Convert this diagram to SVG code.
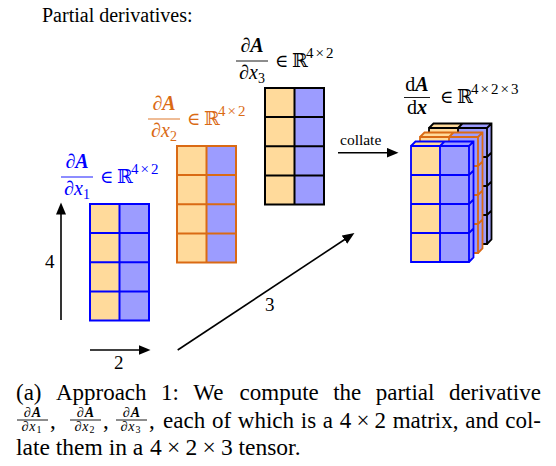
<svg xmlns="http://www.w3.org/2000/svg" width="556" height="466" viewBox="0 0 556 466">
<defs>
<style>
.t{font-family:"Liberation Serif","DejaVu Serif",serif;fill:#000}
.m{font-family:"Liberation Serif","DejaVu Serif",serif}
.i{font-style:italic}
.b{font-style:italic;font-weight:bold}
.of{fill:#FFDA9B}
.bf{fill:#9C9CFF}
.grid{fill:none;stroke-width:2;stroke-linejoin:miter}
.cg{fill:none;stroke-width:1.8;stroke-linejoin:miter}
.ar{fill:none;stroke:#000;stroke-width:1.6}
.bar{stroke-width:0.9}
.cb{stroke:#0000FF}
.co{stroke:#DA6A14}
.ck{stroke:#000}
</style>
<marker id="ah" markerUnits="userSpaceOnUse" markerWidth="13" markerHeight="10" refX="8.5" refY="5" orient="auto">
<path d="M0,0 L12,5 L0,10 Z" fill="#000"/>
</marker>
</defs>
<rect width="556" height="466" fill="#fff"/>

<text class="t" x="42" y="22" font-size="20">Partial derivatives:</text>

<!-- matrix dA/dx1 (blue) -->
<g id="m1">
<rect class="of" x="90" y="204" width="29.5" height="116.5"/>
<rect class="bf" x="119.5" y="204" width="29.5" height="116.5"/>
<path class="grid cb" d="M90,204 h59 v116.5 h-59 z M119.5,204 v116.5 M90,233.1 h59 M90,262.25 h59 M90,291.4 h59"/>
<g class="m" fill="#0000FF">
<line class="bar cb" x1="61" y1="177" x2="93" y2="177"/>
<text x="77" y="168" font-size="20" text-anchor="middle"><tspan class="i">∂</tspan><tspan class="b">A</tspan></text>
<text x="77" y="194.5" font-size="20" text-anchor="middle"><tspan class="i">∂x</tspan><tspan font-size="14" dy="4">1</tspan></text>
<text x="100" y="183" font-size="18">∈</text>
<text x="117" y="183" font-size="19">ℝ</text>
<text x="131" y="174" font-size="15" letter-spacing="2">4×2</text>
</g>
</g>

<!-- matrix dA/dx2 (orange) -->
<g id="m2">
<rect class="of" x="177" y="146" width="29.5" height="116.5"/>
<rect class="bf" x="206.5" y="146" width="29.5" height="116.5"/>
<path class="grid co" d="M177,146 h59 v116.5 h-59 z M206.5,146 v116.5 M177,175.1 h59 M177,204.25 h59 M177,233.4 h59"/>
<g class="m" fill="#DA6A14">
<line class="bar co" x1="148" y1="119" x2="180" y2="119"/>
<text x="164" y="110" font-size="20" text-anchor="middle"><tspan class="i">∂</tspan><tspan class="b">A</tspan></text>
<text x="164" y="136.5" font-size="20" text-anchor="middle"><tspan class="i">∂x</tspan><tspan font-size="14" dy="4">2</tspan></text>
<text x="187" y="125" font-size="18">∈</text>
<text x="204" y="125" font-size="19">ℝ</text>
<text x="218" y="116" font-size="15" letter-spacing="2">4×2</text>
</g>
</g>

<!-- matrix dA/dx3 (black) -->
<g id="m3">
<rect class="of" x="265" y="88" width="29.5" height="116.5"/>
<rect class="bf" x="294.5" y="88" width="29.5" height="116.5"/>
<path class="grid ck" d="M265,88 h59 v116.5 h-59 z M294.5,88 v116.5 M265,117.1 h59 M265,146.25 h59 M265,175.4 h59"/>
<g class="m" fill="#000">
<line class="bar ck" x1="236" y1="61" x2="268" y2="61"/>
<text x="252" y="52" font-size="20" text-anchor="middle"><tspan class="i">∂</tspan><tspan class="b">A</tspan></text>
<text x="252" y="78.5" font-size="20" text-anchor="middle"><tspan class="i">∂x</tspan><tspan font-size="14" dy="4">3</tspan></text>
<text x="275" y="67" font-size="18">∈</text>
<text x="292" y="67" font-size="19">ℝ</text>
<text x="306" y="58" font-size="15" letter-spacing="2">4×2</text>
</g>
</g>

<!-- tensor dA/dx -->
<g id="tensor">
<!-- black layer -->
<polygon class="bf" points="487,128 491.5,123.5 491.5,239.5 487,244"/>
<polygon class="of" points="429,128 433.5,123.5 462.5,123.5 458,128"/>
<polygon class="bf" points="458,128 462.5,123.5 491.5,123.5 487,128"/>
<rect class="of" x="429" y="128" width="29" height="116"/>
<rect class="bf" x="458" y="128" width="29" height="116"/>
<path class="cg ck" d="M429,128 h58 v116 h-58 z M458,128 v116 M429,157 h58 M429,186 h58 M429,215 h58 M429,128 l4.5,-4.5 h58 v116 l-4.5,4.5 M458,128 l4.5,-4.5 M487,128 l4.5,-4.5 M487,157 l4.5,-4.5 M487,186 l4.5,-4.5 M487,215 l4.5,-4.5"/>
<!-- orange layer -->
<polygon class="bf" points="478,137 482.5,132.5 482.5,248.5 478,253"/>
<polygon class="of" points="420,137 424.5,132.5 453.5,132.5 449,137"/>
<polygon class="bf" points="449,137 453.5,132.5 482.5,132.5 478,137"/>
<rect class="of" x="420" y="137" width="29" height="116"/>
<rect class="bf" x="449" y="137" width="29" height="116"/>
<path class="cg co" d="M420,137 h58 v116 h-58 z M449,137 v116 M420,166 h58 M420,195 h58 M420,224 h58 M420,137 l4.5,-4.5 h58 v116 l-4.5,4.5 M449,137 l4.5,-4.5 M478,137 l4.5,-4.5 M478,166 l4.5,-4.5 M478,195 l4.5,-4.5 M478,224 l4.5,-4.5"/>
<!-- blue layer -->
<polygon class="bf" points="469,146 473.5,141.5 473.5,257.5 469,262"/>
<polygon class="of" points="411,146 415.5,141.5 444.5,141.5 440,146"/>
<polygon class="bf" points="440,146 444.5,141.5 473.5,141.5 469,146"/>
<rect class="of" x="411" y="146" width="29" height="116"/>
<rect class="bf" x="440" y="146" width="29" height="116"/>
<path class="cg cb" d="M411,146 h58 v116 h-58 z M440,146 v116 M411,175 h58 M411,204 h58 M411,233 h58 M411,146 l4.5,-4.5 h58 v116 l-4.5,4.5 M440,146 l4.5,-4.5 M469,146 l4.5,-4.5 M469,175 l4.5,-4.5 M469,204 l4.5,-4.5 M469,233 l4.5,-4.5"/>
<g class="m" fill="#000">
<line class="bar ck" x1="404" y1="97.5" x2="430" y2="97.5"/>
<text x="417" y="91" font-size="20" text-anchor="middle">d<tspan class="b">A</tspan></text>
<text x="417" y="113.5" font-size="20" text-anchor="middle">d<tspan class="b">x</tspan></text>
<text x="440" y="103" font-size="18">∈</text>
<text x="457" y="103" font-size="19">ℝ</text>
<text x="471" y="94" font-size="15" letter-spacing="2">4×2×3</text>
</g>
</g>

<!-- connectors -->
<g id="connectors">
<line class="ar" x1="61" y1="320" x2="61" y2="206" marker-end="url(#ah)"/>
<line class="ar" x1="90" y1="350" x2="147" y2="350" marker-end="url(#ah)"/>
<line class="ar" x1="177.7" y1="350" x2="351.5" y2="235" marker-end="url(#ah)"/>
<line class="ar" x1="338" y1="152.7" x2="395" y2="152.7" marker-end="url(#ah)"/>
<text class="t" x="45" y="268" font-size="19">4</text>
<text class="t" x="114" y="369" font-size="19">2</text>
<text class="t" x="265" y="311" font-size="19">3</text>
<text class="t" x="340" y="145" font-size="15.5">collate</text>
</g>

<!-- caption -->
<g id="caption" class="t" font-size="23">
<text y="400"><tspan x="16">(a)</tspan><tspan x="55.9">Approach</tspan><tspan x="161">1:</tspan><tspan x="193.3">We</tspan><tspan x="239.6">compute</tspan><tspan x="333.2">the</tspan><tspan x="375.7">partial</tspan><tspan x="448.9">derivative</tspan></text>
<g class="m" font-size="14" letter-spacing="1">
<line class="bar ck" x1="17" y1="420" x2="48" y2="420"/>
<text x="33" y="416.5" text-anchor="middle"><tspan class="i">∂</tspan><tspan class="b">A</tspan></text>
<text x="32" y="430.5" text-anchor="middle"><tspan class="i">∂x</tspan><tspan font-size="10" dy="2">1</tspan></text>
<line class="bar ck" x1="70" y1="420" x2="101" y2="420"/>
<text x="86" y="416.5" text-anchor="middle"><tspan class="i">∂</tspan><tspan class="b">A</tspan></text>
<text x="85" y="430.5" text-anchor="middle"><tspan class="i">∂x</tspan><tspan font-size="10" dy="2">2</tspan></text>
<line class="bar ck" x1="116" y1="420" x2="147" y2="420"/>
<text x="132" y="416.5" text-anchor="middle"><tspan class="i">∂</tspan><tspan class="b">A</tspan></text>
<text x="131" y="430.5" text-anchor="middle"><tspan class="i">∂x</tspan><tspan font-size="10" dy="2">3</tspan></text>
</g>
<text y="428"><tspan x="50">,</tspan><tspan x="103">,</tspan><tspan x="149">,</tspan><tspan x="163">each</tspan><tspan x="211.9">of</tspan><tspan x="237.8">which</tspan><tspan x="300.8">is</tspan><tspan x="322.8">a</tspan><tspan x="339.8">4</tspan><tspan x="356.4">×</tspan><tspan x="374.5">2</tspan><tspan x="392.7">matrix,</tspan><tspan x="465.3">and</tspan><tspan x="505.2">col-</tspan></text>
<text y="454.5" font-size="23.5"><tspan x="16">late them in a</tspan><tspan x="150">4</tspan><tspan x="167">×</tspan><tspan x="185.5">2</tspan><tspan x="202.5">×</tspan><tspan x="221">3</tspan><tspan x="238.5">tensor.</tspan></text>
</g>
</svg>
